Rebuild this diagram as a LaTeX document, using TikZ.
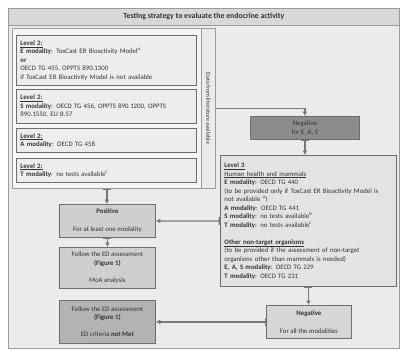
\documentclass[tikz,border=0pt]{standalone}
\usepackage{fontspec}
\setmainfont{Carlito}
\usepackage{tikz}
\usetikzlibrary{arrows.meta,positioning}
\definecolor{panel}{HTML}{EBEBEB}
\definecolor{frame}{HTML}{9A9A9A}
\definecolor{edge}{HTML}{6E6E6E}
\definecolor{line}{HTML}{7A7A7A}
\definecolor{pale}{HTML}{F5F5F5}
\definecolor{lvlfill}{HTML}{EDEDED}
\definecolor{lvlthree}{HTML}{E3E3E3}
\definecolor{negdark}{HTML}{8C8C8C}
\definecolor{posfill}{HTML}{CFCFCF}
\definecolor{notmetfill}{HTML}{B3B3B3}
\definecolor{negfill}{HTML}{D6D6D6}
\definecolor{ink}{HTML}{333333}

\begin{document}
\begin{tikzpicture}[x=1pt,y=-1pt,
  font=\fontsize{6.8}{8.5}\selectfont, text=ink,
  lvlbox/.style={draw=edge, line width=0.9pt, fill=lvlfill, inner sep=4pt, align=left, anchor=north west},
  flowbox/.style={draw=edge, line width=0.8pt, inner sep=2pt, align=center, anchor=north west},
  conn/.style={draw=line, line width=1.3pt, {Bar[width=8pt]}-{Latex[length=4.5pt,width=5pt]}}]
  \useasboundingbox (0,0) rectangle (400,351);
  \fill[white] (0,0) rectangle (400,351);
  \draw[frame, fill=panel, line width=0.8pt] (8,8) rectangle (399,348);
  \node[draw=frame, line width=0.8pt, fill=panel!92!black, anchor=north west, minimum width=391pt, minimum height=17pt, font=\fontsize{7.8}{9}\selectfont\bfseries] (title) at (8,8) {Testing strategy to evaluate the endocrine activity};

  % level 2 column
  \node[draw=frame, line width=0.8pt, fill=pale, anchor=north west, minimum width=189pt, minimum height=160pt] (lvltwo) at (12,28) {};
  \node[draw=frame, line width=0.8pt, fill=panel, anchor=north west, minimum width=14pt, minimum height=160pt] (litstrip) at (201,28) {};
  \node[rotate=-90, font=\fontsize{6}{7}\selectfont] (littext) at (litstrip) {Data from literature available};

  \node[lvlbox, text width=172pt, minimum height=50pt] (boxE) at (16,35) {\underline{\textbf{Level 2:}}\\
    \textbf{E modality}: ToxCast ER Bioactivity Model\textsuperscript{a}\\
    \textbf{or}\\
    OECD TG 455, OPPTS 890.1300\\
    if ToxCast ER Bioactivity Model is not available};
  \node[lvlbox, text width=172pt, minimum height=34pt] (boxS) at (16,89) {\underline{\textbf{Level 2:}}\\
    \textbf{S modality}: OECD TG 456, OPPTS 890.1200, OPPTS\\
    890.1550, EU B.57};
  \node[lvlbox, text width=172pt, minimum height=24pt] (boxA) at (16,128) {\underline{\textbf{Level 2:}}\\
    \textbf{A modality}: OECD TG 458};
  \node[lvlbox, text width=172pt, minimum height=24pt] (boxT) at (16,158) {\underline{\textbf{Level 2:}}\\
    \textbf{T modality}: no tests available\textsuperscript{c}};

  % right branch
  \node[flowbox, fill=negdark, minimum width=109pt, minimum height=23pt] (negeas) at (250,116) {Negative\\for E, A, S};
  \node[lvlbox, fill=lvlthree, text width=168pt, minimum height=131pt] (levthree) at (220,155) {\underline{\textbf{Level 3}}\\
    \underline{Human health and mammals}\\
    \textbf{E modality}: OECD TG 440\\
    (to be provided only if ToxCast ER Bioactivity Model is\\
    not available \textsuperscript{a})\\
    \textbf{A modality}: OECD TG 441\\
    \textbf{S modality}: no tests available\textsuperscript{b}\\
    \textbf{T modality}: no tests available\textsuperscript{c}\\[8.5pt]
    \underline{\textbf{Other non-target organisms}}\\
    (to be provided if the assessment of non-target\\
    organisms other than mammals is needed)\\
    \textbf{E, A, S modality}: OECD TG 229\\
    \textbf{T modality}: OECD TG 231};

  % outcomes
  \node[flowbox, fill=posfill, minimum width=96pt, minimum height=33pt] (positive) at (59,204) {\textbf{Positive}\\[9.5pt]For at least one modality};
  \node[flowbox, fill=posfill, minimum width=96pt, minimum height=41pt] (moa) at (59,247) {Follow the ED assessment\\\textbf{(Figure 1)}\\[8.5pt]MoA analysis};
  \node[flowbox, fill=notmetfill, minimum width=96pt, minimum height=43pt] (notmet) at (59,300) {Follow the ED assessment\\\textbf{(Figure 1)}\\[8.5pt]ED criteria \textbf{not Met}};
  \node[flowbox, fill=negfill, minimum width=85pt, minimum height=33pt] (negall) at (266,305) {\textbf{Negative}\\[9.5pt]For all the modalities};

  \draw[draw=line, line width=1.3pt, -{Latex[length=4.5pt,width=5pt]}] (litstrip.east) -| (negeas.north);
  \draw[conn] (negeas.south) -- (negeas.south |- levthree.north);
  \draw[conn] (levthree.west) -- (positive.east);
  \draw[conn] (lvltwo.south) -- (lvltwo.south |- positive.north);
  \draw[conn] (positive.south) -- (moa.north);
  \draw[conn] (levthree.south) -- (levthree.south |- negall.north);
  \draw[conn] (negall.west) -- (notmet.east);
\end{tikzpicture}
\end{document}
